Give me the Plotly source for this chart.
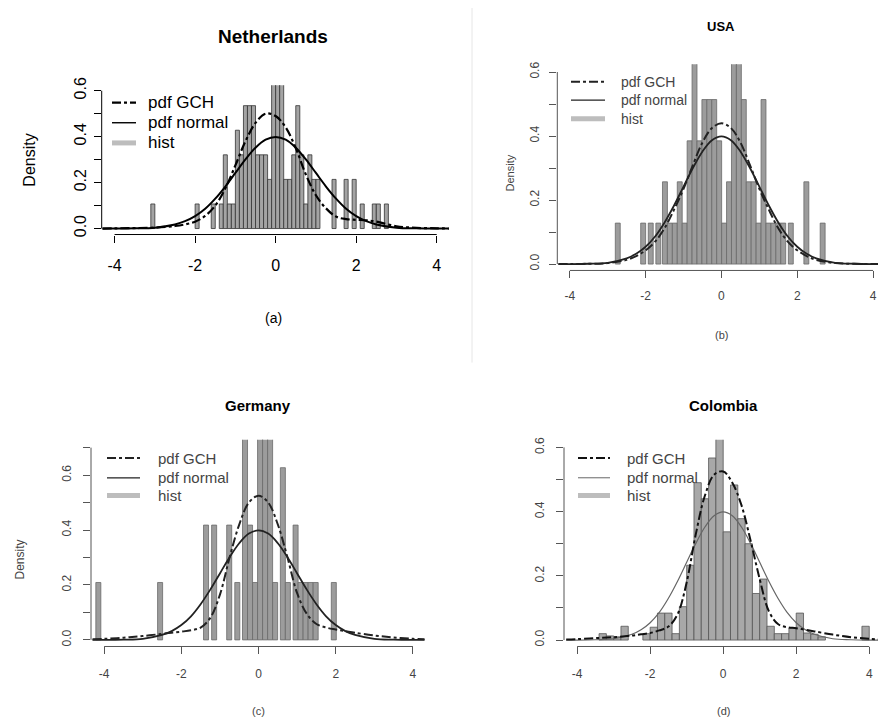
import plotly.graph_objects as go

W, H = 878, 727
FONT = "Liberation Sans, Arial, sans-serif"

# ---------------- data ----------------
curve_x = [-4.3, -4.0, -3.5, -3.0, -2.5, -2.25, -2.0, -1.75, -1.5, -1.25, -1.0, -0.75, -0.5, -0.25,
           0.0, 0.25, 0.5, 0.75, 1.0, 1.25, 1.5, 1.75, 2.0, 2.25, 2.5, 3.0, 3.5, 4.0, 4.3]

pdf_normal = [0.000, 0.000, 0.001, 0.004, 0.018, 0.032, 0.054, 0.086, 0.130, 0.183, 0.242, 0.301, 0.352, 0.387,
              0.399, 0.387, 0.352, 0.301, 0.242, 0.183, 0.130, 0.086, 0.054, 0.032, 0.018, 0.004, 0.001, 0.000, 0.000]

gch_netherlands = [0.000, 0.001, 0.002, 0.004, 0.011, 0.018, 0.030, 0.055, 0.100, 0.175, 0.275, 0.380, 0.460, 0.500,
                   0.490, 0.440, 0.350, 0.235, 0.145, 0.088, 0.052, 0.041, 0.038, 0.036, 0.030, 0.010, 0.003, 0.001, 0.000]
gch_usa = [0.000, 0.000, 0.001, 0.003, 0.013, 0.025, 0.043, 0.070, 0.112, 0.170, 0.235, 0.310, 0.380, 0.425,
           0.440, 0.425, 0.380, 0.310, 0.235, 0.170, 0.112, 0.070, 0.043, 0.025, 0.013, 0.003, 0.001, 0.000, 0.000]
gch_germany = [0.002, 0.004, 0.008, 0.014, 0.022, 0.026, 0.030, 0.035, 0.045, 0.080, 0.165, 0.300, 0.420, 0.500,
               0.525, 0.500, 0.420, 0.300, 0.170, 0.095, 0.058, 0.045, 0.038, 0.032, 0.026, 0.016, 0.009, 0.004, 0.002]
gch_colombia = [0.002, 0.003, 0.006, 0.009, 0.014, 0.018, 0.022, 0.030, 0.042, 0.080, 0.180, 0.330, 0.450, 0.515,
                0.525, 0.490, 0.420, 0.310, 0.190, 0.090, 0.050, 0.040, 0.037, 0.032, 0.027, 0.017, 0.009, 0.004, 0.002]

# histogram bins: centres and densities
nl_x = [-3.05, -1.95, -1.55, -1.35, -1.25, -1.15, -1.05, -0.95, -0.85, -0.75, -0.65, -0.55, -0.45, -0.35,
        -0.25, -0.15, -0.05, 0.05, 0.15, 0.25, 0.35, 0.45, 0.55, 0.65, 0.75, 0.85, 0.95, 1.05, 1.45, 1.75,
        1.95, 2.15, 2.45, 2.55, 2.75]
nl_h = [0.107, 0.107, 0.107, 0.107, 0.321, 0.107, 0.107, 0.428, 0.321, 0.535, 0.535, 0.535, 0.321, 0.321,
        0.321, 0.214, 0.75, 0.75, 0.75, 0.214, 0.214, 0.321, 0.535, 0.321, 0.107, 0.321, 0.214, 0.214, 0.214, 0.214,
        0.214, 0.107, 0.107, 0.107, 0.107]

usa_x = [-2.735, -2.065, -1.865, -1.665, -1.49, -1.36, -1.23, -1.10, -0.97, -0.84, -0.71, -0.58, -0.45, -0.32,
         -0.19, -0.06, 0.07, 0.20, 0.33, 0.46, 0.59, 0.72, 0.85, 0.98, 1.11, 1.24, 1.37, 1.50, 1.63, 1.83, 2.24, 2.67]
usa_h = [0.128, 0.128, 0.128, 0.128, 0.257, 0.128, 0.128, 0.257, 0.128, 0.385, 0.64, 0.385, 0.514, 0.514,
         0.514, 0.385, 0.128, 0.257, 0.64, 0.64, 0.514, 0.257, 0.257, 0.128, 0.514, 0.128, 0.128, 0.128, 0.128,
         0.128, 0.257, 0.128]

ger_x = [-4.15, -2.55, -1.36, -1.15, -0.76, -0.55, -0.35, -0.22, -0.09, 0.04, 0.17, 0.30, 0.43, 0.63, 0.76,
         0.96, 1.09, 1.22, 1.35, 1.48, 1.95]
ger_h = [0.209, 0.209, 0.418, 0.418, 0.418, 0.209, 0.84, 0.418, 0.209, 0.84, 0.84, 0.84, 0.209, 0.627, 0.209,
         0.418, 0.209, 0.209, 0.209, 0.209, 0.209]

col_x = [-3.3, -3.1, -2.9, -2.7, -2.1, -1.9, -1.7, -1.5, -1.3, -1.1, -0.9, -0.7, -0.5, -0.3, -0.1, 0.1, 0.3,
         0.5, 0.7, 0.9, 1.1, 1.3, 1.5, 1.7, 1.9, 2.1, 2.3, 2.5, 2.7, 3.9]
col_h = [0.020, 0.013, 0.010, 0.043, 0.020, 0.040, 0.084, 0.084, 0.020, 0.104, 0.233, 0.490, 0.440, 0.567,
         0.650, 0.337, 0.483, 0.378, 0.300, 0.145, 0.190, 0.043, 0.020, 0.020, 0.038, 0.084, 0.022, 0.018, 0.010, 0.043]

x_ticks = [-4, -2, 0, 2, 4]
x_ticktext = ["-4", "-2", "0", "2", "4"]

# ---------------- panel styles ----------------
def px_x(p):
    return p / W

def px_y(p):
    return 1 - p / H

panels = [
    dict(name="Netherlands", cap="(a)", hx=nl_x, hy=nl_h, bw=0.1, gch=gch_netherlands,
         xd=[101.7, 450], xr=[-4.32, 4.33], yd=[230, 78.4], yr=[-0.026, 0.624], ymax=0.6,
         fs=16, tfs=19, tl=(273, 29), cl=(273, 315), cfs=14, dens=(30, 155), dfs=16,
         leg=dict(x0=112, x1=136, tx=146, rows=[96, 116.5, 137], fs=17),
         ax="#000", tc="#000", lw=2.2, nlw=2.0, ncol="#000", gcol="#000",
         bar="#a4a4a4", edge="#333", tlen=7, xstand=9, ystand=1),
    dict(name="USA", cap="(b)", hx=usa_x, hy=usa_h, bw=0.13, gch=gch_usa,
         xd=[557.3, 878], xr=[-4.33, 4.13], yd=[266.5, 57.2], yr=[-0.02, 0.624], ymax=0.6,
         fs=12, tfs=13, tl=(721, 19), cl=(721, 332), cfs=11, dens=(510, 168), dfs=11,
         leg=dict(x0=571, x1=605, tx=619, rows=[75, 93.5, 112.5], fs=14),
         ax="#555", tc="#444", lw=2.0, nlw=1.8, ncol="#222", gcol="#222",
         bar="#9c9c9c", edge="#6a6a6a", tlen=7, xstand=7, ystand=6),
    dict(name="Germany", cap="(c)", hx=ger_x, hy=ger_h, bw=0.13, gch=gch_germany,
         xd=[91, 428], xr=[-4.34, 4.39], yd=[648.3, 438.3], yr=[-0.024, 0.729], ymax=0.7,
         fs=12, tfs=15, tl=(258, 404), cl=(258, 714), cfs=11, dens=(20, 560), dfs=12,
         leg=dict(x0=107, x1=140, tx=156, rows=[457, 477, 495], fs=15),
         ax="#555", tc="#444", lw=2.0, nlw=1.8, ncol="#222", gcol="#222",
         bar="#9c9c9c", edge="#6a6a6a", tlen=7, xstand=9, ystand=7),
    dict(name="Colombia", cap="(d)", hx=col_x, hy=col_h, bw=0.2, gch=gch_colombia,
         xd=[564, 878], xr=[-4.36, 4.24], yd=[648.3, 438.3], yr=[-0.02, 0.624], ymax=0.6,
         fs=12, tfs=15, tl=(723, 404), cl=(723, 714), cfs=11, dens=None, dfs=12,
         leg=dict(x0=578, x1=610, tx=625, rows=[457, 477, 495], fs=15),
         ax="#555", tc="#444", lw=2.0, nlw=1.2, ncol="#666", gcol="#111",
         bar="#a8a8a8", edge="#555", tlen=7, xstand=9, ystand=7),
]

fig = go.Figure()
layout = dict(width=W, height=H, margin=dict(l=0, r=0, t=0, b=0), showlegend=False,
              paper_bgcolor="white", plot_bgcolor="white", barmode="overlay",
              font=dict(family=FONT, color="#000"))
shapes = []
annotations = []

for i, p in enumerate(panels):
    n = "" if i == 0 else str(i + 1)
    xa, ya = "x" + n, "y" + n
    fig.add_trace(go.Bar(x=p["hx"], y=p["hy"], width=p["bw"], xaxis=xa, yaxis=ya,
                         marker=dict(color=p["bar"], line=dict(color=p["edge"], width=0.8))))
    fig.add_trace(go.Scatter(x=curve_x, y=pdf_normal, mode="lines", xaxis=xa, yaxis=ya,
                             line=dict(color=p["ncol"], width=p["nlw"], shape="spline")))
    fig.add_trace(go.Scatter(x=curve_x, y=p["gch"], mode="lines", xaxis=xa, yaxis=ya,
                             line=dict(color=p["gcol"], width=p["lw"], dash="dashdot", shape="spline")))

    yvals = [round(0.1 * k, 1) for k in range(int(round(p["ymax"] * 10)) + 1)]
    ytext = [("%.1f" % v) if k % 2 == 0 else "" for k, v in enumerate(yvals)]

    layout["xaxis" + n] = dict(domain=[px_x(p["xd"][0]), px_x(p["xd"][1])], range=p["xr"], anchor=ya,
                               showgrid=False, zeroline=False, showline=False, tickmode="array",
                               tickvals=x_ticks, ticktext=x_ticktext, ticks="outside", ticklen=p["tlen"],
                               tickcolor=p["ax"], ticklabelstandoff=p["xstand"],
                               tickfont=dict(size=p["fs"], color=p["tc"], family=FONT))
    layout["yaxis" + n] = dict(domain=[px_y(p["yd"][0]), px_y(p["yd"][1])], range=p["yr"], anchor=xa,
                               showgrid=False, zeroline=False, showline=False, tickmode="array",
                               tickvals=yvals, ticktext=ytext, ticks="outside", ticklen=p["tlen"],
                               tickcolor=p["ax"], tickangle=-90, ticklabelstandoff=p["ystand"],
                               tickfont=dict(size=p["fs"], color=p["tc"], family=FONT))
    # R-style axis lines spanning the tick range only
    shapes.append(dict(type="line", xref=xa, yref=ya + " domain", x0=-4, x1=4, y0=0, y1=0,
                       line=dict(color=p["ax"], width=1)))
    shapes.append(dict(type="line", xref=xa + " domain", yref=ya, x0=0, x1=0, y0=0, y1=p["ymax"],
                       line=dict(color=p["ax"], width=1)))

    # title, caption, y label
    annotations.append(dict(text="<b>%s</b>" % p["name"], x=px_x(p["tl"][0]), y=px_y(p["tl"][1]),
                            xref="paper", yref="paper", showarrow=False, xanchor="center", yanchor="middle",
                            font=dict(size=p["tfs"], color="#000", family=FONT)))
    annotations.append(dict(text=p["cap"], x=px_x(p["cl"][0]), y=px_y(p["cl"][1]), xref="paper", yref="paper",
                            showarrow=False, xanchor="center", yanchor="middle",
                            font=dict(size=p["cfs"], color=p["tc"], family=FONT)))
    if p["dens"]:
        annotations.append(dict(text="Density", x=px_x(p["dens"][0]), y=px_y(p["dens"][1]), xref="paper",
                                yref="paper", showarrow=False, textangle=-90, xanchor="center", yanchor="middle",
                                font=dict(size=p["dfs"], color=p["tc"], family=FONT)))

    # legend (no box, R style)
    lg = p["leg"]
    labels = ["pdf GCH", "pdf normal", "hist"]
    styles = [dict(color=p["gcol"], width=p["lw"], dash="dashdot"),
              dict(color=p["ncol"], width=max(1.0, p["nlw"] - 0.6)),
              dict(color="#bdbdbd", width=5)]
    for lab, st, ry in zip(labels, styles, lg["rows"]):
        shapes.append(dict(type="line", xref="paper", yref="paper", x0=px_x(lg["x0"]), x1=px_x(lg["x1"]),
                           y0=px_y(ry), y1=px_y(ry), line=st))
        annotations.append(dict(text=lab, x=px_x(lg["tx"]), y=px_y(ry), xref="paper", yref="paper",
                                showarrow=False, xanchor="left", yanchor="middle",
                                font=dict(size=lg["fs"], color=p["tc"], family=FONT)))

# faint separator between top panels
shapes.append(dict(type="line", xref="paper", yref="paper", x0=px_x(472), x1=px_x(472), y0=1, y1=px_y(360),
                   line=dict(color="#e6e6e6", width=1)))

layout["shapes"] = shapes
layout["annotations"] = annotations
fig.update_layout(**layout)
fig.write_html("out.html")
